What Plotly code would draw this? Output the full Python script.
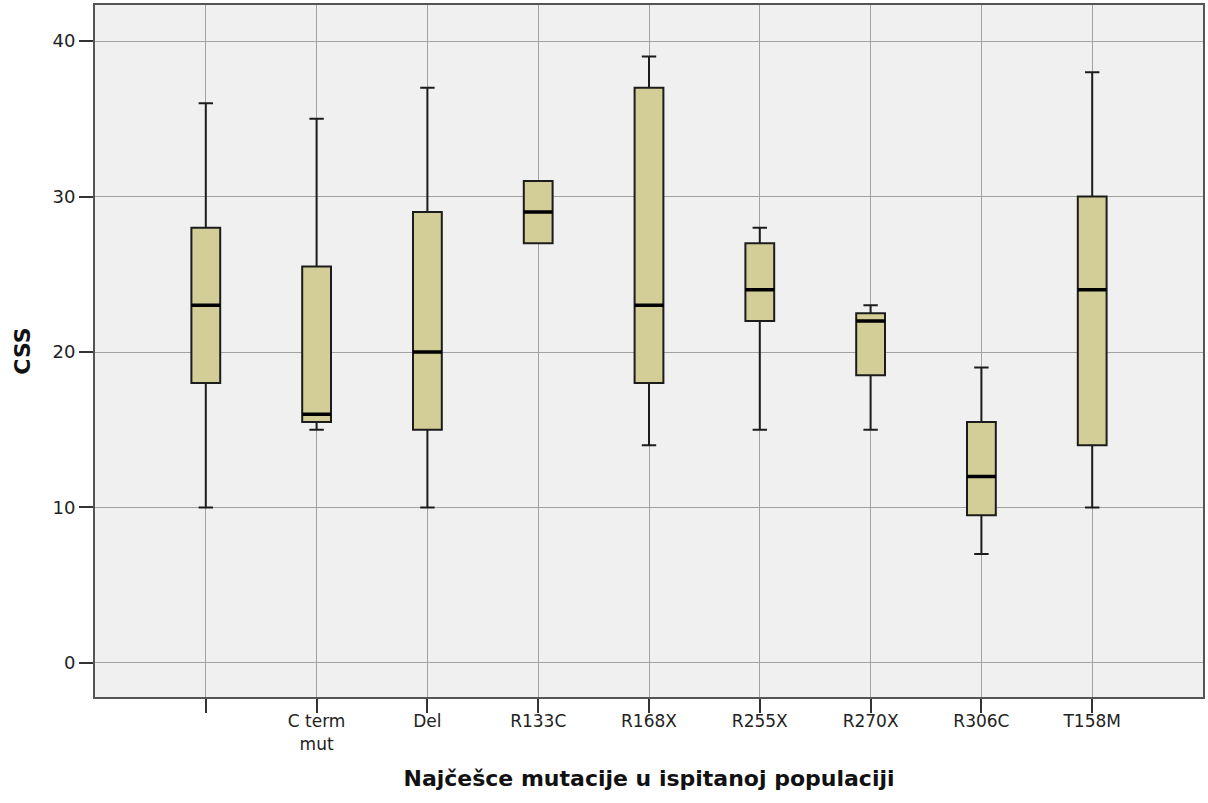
import plotly.graph_objects as go

# CSS score distribution per mutation group (five-number summaries)
categories = ["", "C term<br>mut", "Del", "R133C", "R168X", "R255X", "R270X", "R306C", "T158M"]
lower_whisker = [10, 15, 10, 27, 14, 15, 15, 7, 10]
q1 = [18, 15.5, 15, 27, 18, 22, 18.5, 9.5, 14]
median = [23, 16, 20, 29, 23, 24, 22, 12, 24]
q3 = [28, 25.5, 29, 31, 37, 27, 22.5, 15.5, 30]
upper_whisker = [36, 35, 37, 31, 39, 28, 23, 19, 38]
y_ticks = [0, 10, 20, 30, 40]

positions = list(range(len(categories)))
BOX_W = 0.26

fig = go.Figure()

# boxes with whiskers and caps
fig.add_trace(go.Box(
    x=positions,
    q1=q1, median=median, q3=q3,
    lowerfence=lower_whisker, upperfence=upper_whisker,
    width=BOX_W,
    whiskerwidth=0.5,
    fillcolor="#D3CE97",
    line=dict(color="#1c1c1c", width=2),
    boxpoints=False,
    hoverinfo="skip",
    showlegend=False,
))

# heavier median bars drawn on top
fig.add_trace(go.Box(
    x=positions,
    q1=median, median=median, q3=median,
    lowerfence=median, upperfence=median,
    width=BOX_W,
    whiskerwidth=0,
    fillcolor="rgba(0,0,0,0)",
    line=dict(color="#000000", width=3.5),
    boxpoints=False,
    hoverinfo="skip",
    showlegend=False,
))

fig.update_layout(
    width=1208, height=803,
    margin=dict(l=95, r=3, t=5, b=106),
    paper_bgcolor="white",
    plot_bgcolor="#F0F0F0",
    boxmode="overlay",
    font=dict(family="DejaVu Sans, sans-serif", size=18, color="#222222"),
)

fig.update_xaxes(
    range=[-1, 9],
    tickmode="array", tickvals=positions, ticktext=categories,
    showgrid=True, gridcolor="#A2A2A2", gridwidth=1,
    zeroline=False,
    showline=True, linecolor="#555555", linewidth=2, mirror=True,
    ticks="outside", ticklen=14, tickwidth=2, tickcolor="#333333",
    tickfont=dict(size=17),
    ticklabelstandoff=-6,
    title=dict(text="<b>Najčešce mutacije u ispitanoj populaciji</b>",
               font=dict(size=22, color="#111111"), standoff=18),
)

fig.update_yaxes(
    range=[-2.19, 42.32],
    tickmode="array", tickvals=y_ticks,
    showgrid=True, gridcolor="#A2A2A2", gridwidth=1,
    zeroline=False,
    showline=True, linecolor="#555555", linewidth=2, mirror=True,
    ticks="outside", ticklen=14, tickwidth=2, tickcolor="#333333",
    tickfont=dict(size=18),
    title=dict(text="<b>CSS</b>", font=dict(size=22, color="#111111"), standoff=16),
)

fig.write_html("out.html")
